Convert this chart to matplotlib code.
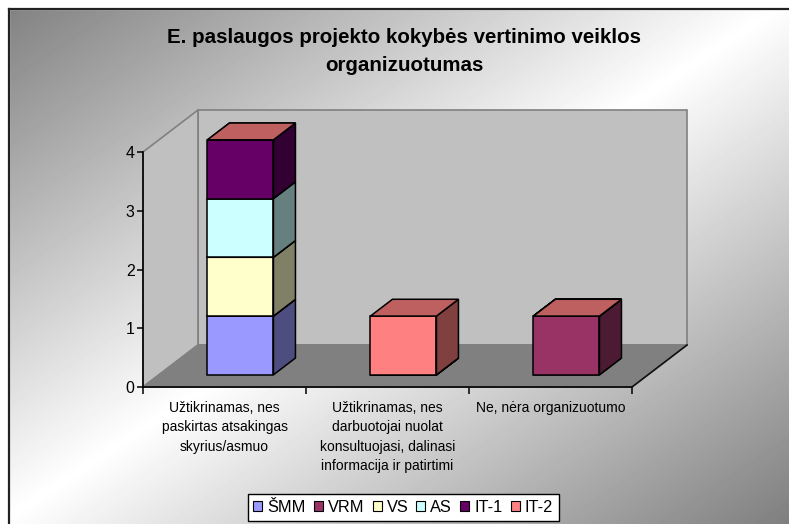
import matplotlib
matplotlib.use("Agg")
import matplotlib.pyplot as plt
import numpy as np
from matplotlib.patches import Polygon, Patch, Rectangle

plt.rcParams["font.family"] = ["Liberation Sans", "DejaVu Sans"]

# duomenys
categories = [
    "Užtikrinamas, nes\npaskirtas atsakingas\nskyrius/asmuo",
    "Užtikrinamas, nes\ndarbuotojai nuolat\nkonsultuojasi, dalinasi\ninformacija ir patirtimi",
    "Ne, nėra organizuotumo",
]
series_names = ["ŠMM", "VRM", "VS", "AS", "IT-1", "IT-2"]
series_colors = ["#9999FF", "#993366", "#FFFFCC", "#CCFFFF", "#660066", "#FF8080"]
smm = [1, 0, 0]
vrm = [0, 0, 1]
vs = [1, 0, 0]
as_ = [1, 0, 0]
it1 = [1, 0, 0]
it2 = [0, 1, 0]
series_values = [smm, vrm, vs, as_, it1, it2]
y_ticks = [0, 1, 2, 3, 4]

W, H = 789, 524
fig = plt.figure(figsize=(W / 100, H / 100), dpi=100)

# fonas su gradientu
bg = fig.add_axes([0, 0, 1, 1], zorder=-10)
gx, gy = np.meshgrid(np.linspace(0, 1, 200), np.linspace(0, 1, 140))
val = 1 - 0.5 * np.abs(gx + gy - 1)
bg.imshow(val, cmap="gray", vmin=0, vmax=1, extent=[0, W, H, 0],
          aspect="auto", interpolation="bilinear")
bg.add_patch(Rectangle((0, 0), W, 9, color="white", zorder=2))
bg.add_patch(Rectangle((0, 0), 9, H, color="white", zorder=2))
bg.plot([9, W], [9, 9], color="#222222", lw=1.6, zorder=3)
bg.plot([9, 9], [9, H], color="#222222", lw=1.6, zorder=3)
bg.set_xlim(0, W)
bg.set_ylim(H, 0)
bg.axis("off")

# pagrindine asis: priekine plokstuma
x0, x1 = 143, 632
y0, y4 = 387, 152
ax = fig.add_axes([x0 / W, 1 - y0 / H, (x1 - x0) / W, (y0 - y4) / H])
ax.set_xlim(0, 3)
ax.set_ylim(0, 4)
ax.patch.set_alpha(0)

DX = 55 / 163.0
DY = 42 / 58.75
n = len(categories)
top = max(y_ticks)

# sienos ir grindys
back_wall = Polygon([(DX, DY), (n + DX, DY), (n + DX, top + DY), (DX, top + DY)],
                    closed=True, facecolor="#C0C0C0", edgecolor="#808080", lw=1.2,
                    clip_on=False, zorder=1)
side_wall = Polygon([(0, 0), (DX, DY), (DX, top + DY), (0, top)],
                    closed=True, facecolor="#C0C0C0", edgecolor="#808080", lw=1.2,
                    clip_on=False, zorder=1)
floor = Polygon([(0, 0), (n, 0), (n + DX, DY), (DX, DY)],
                closed=True, facecolor="#808080", edgecolor="#808080", lw=1.2,
                clip_on=False, zorder=2)
for p in (back_wall, side_wall, floor):
    ax.add_patch(p)
ax.plot([n, n + DX], [0, DY], color="#111111", lw=1.2, clip_on=False, zorder=2)


def shade(color, k):
    c = np.array(matplotlib.colors.to_rgb(color))
    return tuple(c * k)


# stulpeliai
bar_w = 66 / 163.0
f0, f1 = 0.29, 0.69
z = 5
for i in range(n):
    cx = i + 0.5 + f0 * DX
    left = cx - bar_w / 2
    right = cx + bar_w / 2
    ox = (f1 - f0) * DX
    oy = (f1 - f0) * DY
    base = f0 * DY
    bottom = 0
    for vals, col in zip(series_values, series_colors):
        h = vals[i]
        b = bottom + base
        t = bottom + h + base
        if h > 0:
            ax.add_patch(Polygon([(left, b), (right, b), (right, t), (left, t)],
                                 facecolor=col, edgecolor="black", lw=1.1,
                                 clip_on=False, zorder=z))
            ax.add_patch(Polygon([(right, b), (right + ox, b + oy),
                                  (right + ox, t + oy), (right, t)],
                                 facecolor=shade(col, 0.5), edgecolor="black", lw=1.1,
                                 clip_on=False, zorder=z))
        ax.add_patch(Polygon([(left, t), (right, t), (right + ox, t + oy),
                              (left + ox, t + oy)],
                             facecolor=shade(col, 0.75), edgecolor="black", lw=1.1,
                             clip_on=False, zorder=z + 0.5))
        bottom += h
        z += 1

# asys
for s in ("top", "right"):
    ax.spines[s].set_visible(False)
ax.spines["left"].set_linewidth(1.2)
ax.spines["bottom"].set_linewidth(1.2)
ax.spines["left"].set_zorder(3)
ax.spines["bottom"].set_zorder(3)
ax.set_yticks(y_ticks)
ax.set_yticklabels([str(v) for v in y_ticks], fontsize=11.5)
ax.tick_params(axis="y", length=4, width=1.1, pad=2)
ax.set_xticks(range(n + 1))
ax.set_xticklabels([""] * (n + 1))
ax.tick_params(axis="x", which="major", length=5, width=1.1)
ax.set_xticks([i + 0.5 for i in range(n)], minor=True)
ax.set_xticklabels(categories, minor=True, fontsize=10, linespacing=1.5,
                   va="top")
ax.tick_params(axis="x", which="minor", length=0, pad=10)

fig.text(0.512, 1 - 51.5 / H,
         "E. paslaugos projekto kokybės vertinimo veiklos\norganizuotumas",
         ha="center", va="center", fontsize=14.8, fontweight="bold", linespacing=1.58)

handles = [Patch(facecolor=c, edgecolor="black", lw=0.8) for c in series_colors]
leg = fig.legend(handles, series_names, loc="center", bbox_to_anchor=(0.511, 1 - 507.5 / H),
                 ncol=6, fontsize=11.8, frameon=True, fancybox=False,
                 handlelength=0.55, handleheight=0.55, handletextpad=0.3,
                 columnspacing=0.5, borderpad=0.35, borderaxespad=0)
leg.get_frame().set_edgecolor("black")
leg.get_frame().set_facecolor("white")
leg.get_frame().set_linewidth(1.0)
leg.get_frame().set_alpha(1)

fig.savefig("out.png", dpi=100)
